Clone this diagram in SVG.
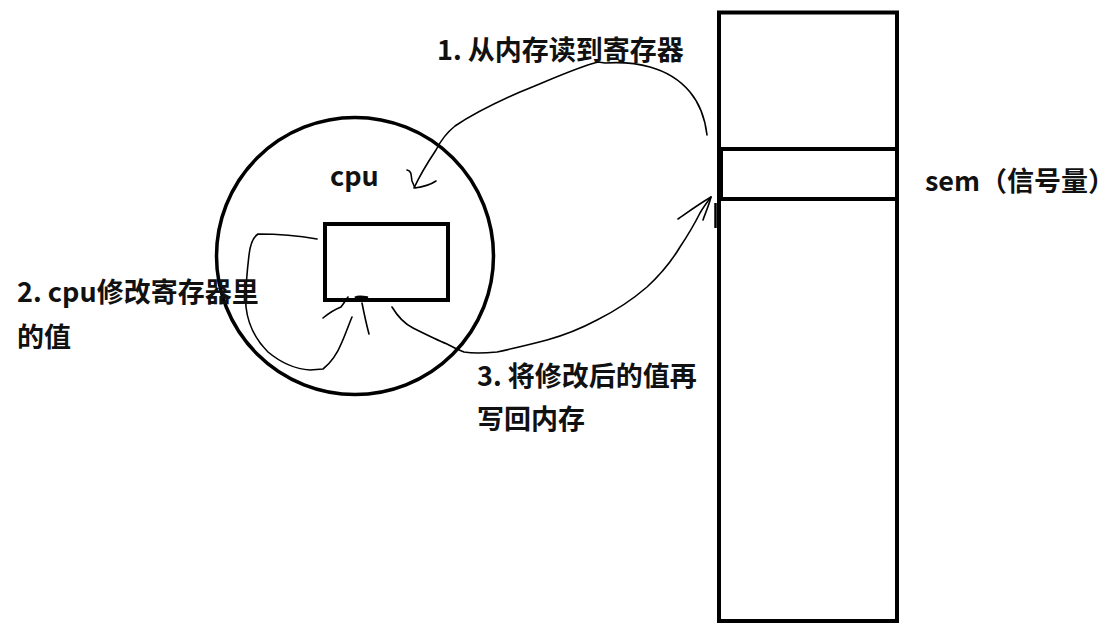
<svg xmlns="http://www.w3.org/2000/svg" width="1119" height="637" viewBox="0 0 1119 637">
<style>
.t{font-family:"Noto Sans CJK SC","Noto Sans",sans-serif;font-weight:bold;font-size:27px;fill:#111}
.box{fill:none;stroke:#000;stroke-width:4}
.hand{fill:none;stroke:#000;stroke-width:1.6;stroke-linecap:round;stroke-linejoin:round}
</style>
<rect width="1119" height="637" fill="#fff"/>
<g id="memory">
<rect class="box" x="719" y="12.5" width="178" height="608.5"/>
<line class="box" x1="719" y1="149" x2="897" y2="149"/>
<line class="box" x1="719" y1="199" x2="897" y2="199"/>
<line x1="720" y1="149" x2="720" y2="199" stroke="#000" stroke-width="6"/>
<line x1="715.5" y1="203" x2="715.5" y2="228" stroke="#000" stroke-width="2.5"/>
</g>
<g id="sem-label"><text class="t" x="925" y="191">sem（信号量）</text></g>
<g id="cpu">
<circle cx="355" cy="256" r="138.5" fill="none" stroke="#000" stroke-width="3.5"/>
<text class="t" x="330" y="186">cpu</text>
</g>
<g id="register">
<rect class="box" x="325" y="224" width="123" height="76"/>
</g>
<g id="connectors">
<path class="hand" d="M707 135 C705 118 700 104 690 92 C680 80 668 72 650 67 C636 63 620 62 605 63 L598 62 C575 68 550 80 520 92 C495 103 470 116 455 126 C445 134 440 142 436 150 C428 162 420 175 414 188"/>
<path class="hand" d="M407 170 C412 171 411 176 412 181 L415 188 C423 187 430 185 436 181"/>
<path class="hand" d="M317 239 C300 236 280 234 258 234 C252 238 250 246 249 255 C247 272 245 290 246 307 C248 325 256 340 268 352 C280 362 295 369 310 370 L323 369 C332 362 338 352 342 342 C346 333 349 324 352 317"/>
<path class="hand" d="M323 318 C329 313 336 309 341 307 C344 303 346 300 348 297"/>
<path class="hand" d="M362 303 C364 313 366 323 369 334"/>
<path d="M355 298 C359 296 363 297 368 298" fill="none" stroke="#000" stroke-width="3"/>
<path class="hand" d="M392 307 C398 317 405 324 413 328 C425 334 437 340 447 344 C453 347 458 350 464 352 C475 354 487 353 497 352 C515 348 532 344 547 340 C565 335 582 328 597 320 C615 311 632 300 647 287 C660 275 671 262 680 247 C688 235 695 223 700 213 C704 206 708 201 711 197"/>
<path class="hand" d="M678 219 C688 212 699 204 711 197 C709 205 705 214 703 220"/>
</g>
<g id="labels">
<text class="t" x="437" y="60">1. 从内存读到寄存器</text>
<text class="t" x="17" y="302">2. cpu修改寄存器里</text>
<text class="t" x="17" y="347">的值</text>
<text class="t" x="477" y="386">3. 将修改后的值再</text>
<text class="t" x="477" y="429">写回内存</text>
</g>
</svg>
